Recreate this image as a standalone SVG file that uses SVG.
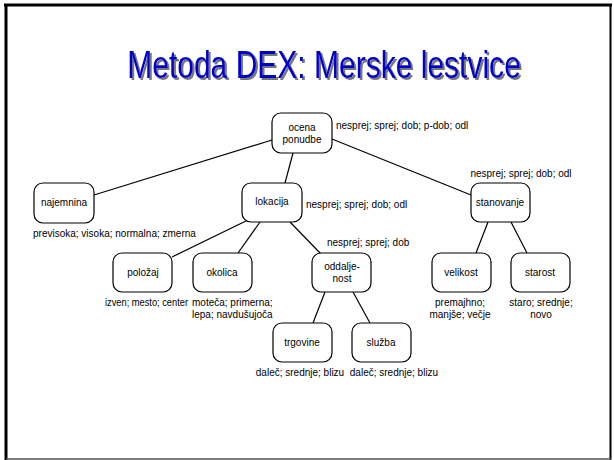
<svg xmlns="http://www.w3.org/2000/svg" width="614" height="460" viewBox="0 0 614 460">
<defs>
<filter id="sh" filterUnits="userSpaceOnUse" x="-300" y="-50" width="600" height="80">
<feDropShadow dx="2.5" dy="2" stdDeviation="0.4" flood-color="#666" flood-opacity="0.9"/>
</filter>
</defs>
<style>
.box{fill:#fff;stroke:#000;stroke-width:1.2}
.t{font-family:"Liberation Sans",Arial,sans-serif;font-size:10px;fill:#000}
.c{text-anchor:middle}
.e{stroke:#000;stroke-width:1.2;fill:none}
.title{font-family:"Liberation Sans",Arial,sans-serif;font-size:38px;text-anchor:middle;fill:#0000CC}
</style>
<rect x="0" y="0" width="614" height="460" fill="#fff"/>
<g id="frame">
<line x1="4" y1="5" x2="612" y2="5" stroke="#000" stroke-width="3"/>
<line x1="6" y1="4" x2="6" y2="460" stroke="#000" stroke-width="3"/>
<line x1="610.5" y1="4" x2="610.5" y2="460" stroke="#000" stroke-width="2"/>
<line x1="6" y1="459" x2="611" y2="459" stroke="#555" stroke-width="1.5"/>
</g>
<g id="title" transform="translate(324,78) scale(0.79,1)">
<text class="title" x="0" y="0" filter="url(#sh)">Metoda DEX: Merske lestvice</text>
</g>
<g id="connectors">
<line class="e" x1="272" y1="140" x2="94" y2="195"/>
<line class="e" x1="293" y1="153" x2="285" y2="183"/>
<line class="e" x1="332" y1="139" x2="471" y2="195"/>
<line class="e" x1="250" y1="219" x2="172" y2="257"/>
<line class="e" x1="260" y1="222" x2="238" y2="253"/>
<line class="e" x1="290" y1="222" x2="321" y2="254"/>
<line class="e" x1="488" y1="222" x2="476" y2="253"/>
<line class="e" x1="511" y1="222" x2="527" y2="253"/>
<line class="e" x1="325" y1="292" x2="313" y2="323"/>
<line class="e" x1="353" y1="292" x2="370" y2="323"/>
</g>
<g id="ocena">
<rect class="box" x="272" y="113" width="60" height="40" rx="9"/>
<text class="t c" x="302" y="131">ocena</text>
<text class="t c" x="302" y="143">ponudbe</text>
<text class="t" x="336" y="129">nesprej; sprej; dob; p-dob; odl</text>
</g>
<g id="najemnina">
<rect class="box" x="34" y="183" width="60" height="40" rx="9"/>
<text class="t c" x="64" y="206">najemnina</text>
<text class="t" x="33" y="237">previsoka; visoka; normalna; zmerna</text>
</g>
<g id="lokacija">
<rect class="box" x="242" y="183" width="60" height="39" rx="9"/>
<text class="t c" x="272" y="205">lokacija</text>
<text class="t" x="306" y="208">nesprej; sprej; dob; odl</text>
</g>
<g id="stanovanje">
<rect class="box" x="471" y="183" width="59" height="39" rx="9"/>
<text class="t c" x="500" y="206">stanovanje</text>
<text class="t c" x="521" y="177">nesprej; sprej; dob; odl</text>
</g>
<g id="polozaj">
<rect class="box" x="113" y="253" width="59" height="39" rx="9"/>
<text class="t c" x="143" y="276">položaj</text>
<text class="t" x="105" y="306" textLength="83" lengthAdjust="spacingAndGlyphs">izven; mesto; center</text>
</g>
<g id="okolica">
<rect class="box" x="193" y="253" width="59" height="39" rx="9"/>
<text class="t c" x="222" y="276">okolica</text>
<text class="t" x="192" y="306">moteča; primerna;</text>
<text class="t" x="192" y="318">lepa; navdušujoča</text>
</g>
<g id="oddaljenost">
<rect class="box" x="312" y="253" width="59" height="39" rx="9"/>
<text class="t c" x="342" y="270">oddalje-</text>
<text class="t c" x="342" y="282">nost</text>
<text class="t" x="327" y="246">nesprej; sprej; dob</text>
</g>
<g id="velikost">
<rect class="box" x="432" y="253" width="59" height="39" rx="9"/>
<text class="t c" x="461" y="276">velikost</text>
<text class="t c" x="460" y="306">premajhno;</text>
<text class="t c" x="460" y="318">manjše; večje</text>
</g>
<g id="starost">
<rect class="box" x="511" y="253" width="59" height="39" rx="9"/>
<text class="t c" x="540" y="276">starost</text>
<text class="t c" x="541" y="306">staro; srednje;</text>
<text class="t c" x="541" y="318">novo</text>
</g>
<g id="trgovine">
<rect class="box" x="273" y="323" width="59" height="39" rx="9"/>
<text class="t c" x="302" y="346">trgovine</text>
<text class="t c" x="300" y="376">daleč; srednje; blizu</text>
</g>
<g id="sluzba">
<rect class="box" x="352" y="323" width="59" height="39" rx="9"/>
<text class="t c" x="381" y="346">služba</text>
<text class="t c" x="394" y="376">daleč; srednje; blizu</text>
</g>
</svg>
